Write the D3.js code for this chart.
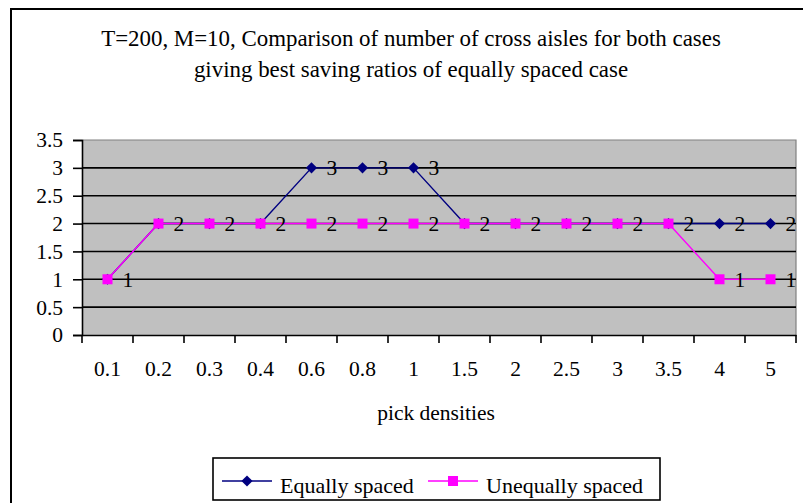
<!DOCTYPE html>
<html>
<head>
<meta charset="utf-8">
<script src="https://cdn.jsdelivr.net/npm/d3@7"></script>
<style>
  html, body { margin: 0; padding: 0; background: #fff; }
  svg { display: block; }
  text { font-family: "Liberation Serif", "Times New Roman", serif; fill: #000; }
</style>
</head>
<body>
<svg id="chart" width="803" height="503"></svg>
<script>
const categories = ["0.1", "0.2", "0.3", "0.4", "0.6", "0.8", "1", "1.5", "2", "2.5", "3", "3.5", "4", "5"];
const equallySpaced = [1, 2, 2, 2, 3, 3, 3, 2, 2, 2, 2, 2, 2, 2];
const unequallySpaced = [1, 2, 2, 2, 2, 2, 2, 2, 2, 2, 2, 2, 1, 1];
const yTicks = [0, 0.5, 1, 1.5, 2, 2.5, 3, 3.5];
const titleLines = [
  "T=200, M=10, Comparison of number of cross aisles for both cases",
  "giving best saving ratios of equally spaced case"
];
const xTitle = "pick densities";
const seriesNames = ["Equally spaced", "Unequally spaced"];

const svg = d3.select("#chart");
const W = 803, H = 503;
const plot = { left: 82, right: 796, top: 140, bottom: 335 };

// outer chart frame (only top and left visible in reference)
svg.append("rect").attr("x", 0).attr("y", 0).attr("width", W).attr("height", H).attr("fill", "#fff");
svg.append("path")
  .attr("d", `M11,${H} L11,9 L${W},9`)
  .attr("fill", "none").attr("stroke", "#000").attr("stroke-width", 2);

// title
const title = svg.append("text")
  .attr("x", 412).attr("y", 46)
  .attr("text-anchor", "middle")
  .style("font-size", "22.9px");
titleLines.forEach((t, i) => {
  title.append("tspan").attr("x", 411).attr("dy", i === 0 ? 0 : 31).text(t);
});

const x = d3.scaleBand().domain(categories).range([plot.left, plot.right]).padding(0);
const y = d3.scaleLinear().domain([0, 3.5]).range([plot.bottom, plot.top]);

// plot background
svg.append("rect")
  .attr("x", plot.left).attr("y", plot.top)
  .attr("width", plot.right - plot.left).attr("height", plot.bottom - plot.top)
  .attr("fill", "#c0c0c0");
// plot top/right gray border
svg.append("path")
  .attr("d", `M${plot.left},${plot.top} L${plot.right},${plot.top} L${plot.right},${plot.bottom}`)
  .attr("fill", "none").attr("stroke", "#808080").attr("stroke-width", 1.2);

// gridlines
svg.append("g").selectAll("line")
  .data(yTicks.filter(d => d > 0 && d < 3.5))
  .join("line")
  .attr("x1", plot.left).attr("x2", plot.right)
  .attr("y1", d => y(d)).attr("y2", d => y(d))
  .attr("stroke", "#000").attr("stroke-width", 1.6);

// y axis
const yAxis = d3.axisLeft(y).tickValues(yTicks).tickSize(9).tickPadding(10)
  .tickFormat(d => String(d));
const gy = svg.append("g").attr("transform", `translate(${plot.left},0)`).call(yAxis);
gy.select(".domain").attr("stroke", "#000").attr("stroke-width", 1.6);
gy.selectAll(".tick line").attr("stroke", "#000").attr("stroke-width", 1.6);
gy.selectAll(".tick text").style("font-size", "21.5px").attr("fill", "#000");

// x axis
const xAxis = d3.axisBottom(x).tickSize(0).tickPadding(26);
const gx = svg.append("g").attr("transform", `translate(0,${plot.bottom})`).call(xAxis);
gx.select(".domain").attr("stroke", "#000").attr("stroke-width", 1.6);
gx.selectAll(".tick text").style("font-size", "21.5px").attr("fill", "#000");
// tick marks at category boundaries
const boundaries = categories.map(c => x(c)).concat([x(categories[categories.length - 1]) + x.bandwidth()]);
svg.append("g").selectAll("line").data(boundaries).join("line")
  .attr("x1", d => d).attr("x2", d => d)
  .attr("y1", plot.bottom).attr("y2", plot.bottom + 8)
  .attr("stroke", "#000").attr("stroke-width", 1.6);

// x title
svg.append("text")
  .attr("x", 436).attr("y", 420)
  .attr("text-anchor", "middle")
  .style("font-size", "21.5px")
  .text(xTitle);

const cx = c => x(c) + x.bandwidth() / 2;
const line = d3.line().x(d => cx(d.c)).y(d => y(d.v));

const eqData = categories.map((c, i) => ({ c, v: equallySpaced[i] }));
const uneqData = categories.map((c, i) => ({ c, v: unequallySpaced[i] }));

const navy = "#000080", magenta = "#ff00ff";
const diamond = d3.symbol().type(d3.symbolSquare).size(62);
const square = d3.symbol().type(d3.symbolSquare).size(100);

// equally spaced series
svg.append("path").datum(eqData).attr("d", line)
  .attr("fill", "none").attr("stroke", navy).attr("stroke-width", 1.4);
svg.append("g").selectAll("path").data(eqData).join("path")
  .attr("d", diamond)
  .attr("transform", d => `translate(${cx(d.c)},${y(d.v)}) rotate(45)`)
  .attr("fill", navy);

// unequally spaced series
svg.append("path").datum(uneqData).attr("d", line)
  .attr("fill", "none").attr("stroke", magenta).attr("stroke-width", 1.4);
svg.append("g").selectAll("path").data(uneqData).join("path")
  .attr("d", square)
  .attr("transform", d => `translate(${cx(d.c)},${y(d.v)})`)
  .attr("fill", magenta);

// data labels
function labels(data) {
  svg.append("g").selectAll("text").data(data).join("text")
    .attr("x", d => cx(d.c) + 15)
    .attr("y", d => y(d.v) + 7.5)
    .style("font-size", "21.5px")
    .text(d => d.v);
}
labels(eqData.filter((d, i) => d.v !== unequallySpaced[i]));
labels(uneqData);

// legend
const lg = svg.append("g");
lg.append("rect").attr("x", 213).attr("y", 458).attr("width", 447).attr("height", 42)
  .attr("fill", "#fff").attr("stroke", "#000").attr("stroke-width", 1.6);
const legendItems = [
  { name: seriesNames[0], color: navy, sym: diamond, x0: 222, rot: 45 },
  { name: seriesNames[1], color: magenta, sym: square, x0: 428, rot: 0 }
];
legendItems.forEach(it => {
  lg.append("line").attr("x1", it.x0).attr("x2", it.x0 + 50).attr("y1", 481).attr("y2", 481)
    .attr("stroke", it.color).attr("stroke-width", 1.4);
  lg.append("path").attr("d", it.sym)
    .attr("transform", `translate(${it.x0 + 25},481) rotate(${it.rot})`)
    .attr("fill", it.color);
  lg.append("text").attr("x", it.x0 + 58).attr("y", 493)
    .style("font-size", "22px").text(it.name);
});
</script>
</body>
</html>
